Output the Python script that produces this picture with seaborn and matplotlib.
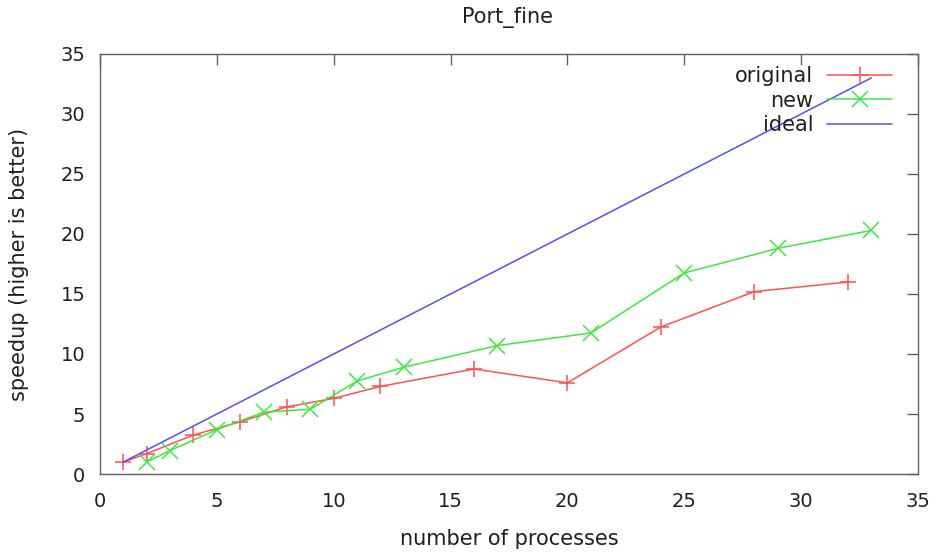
import matplotlib
matplotlib.use("Agg")
import matplotlib.pyplot as plt
import seaborn as sns
import pandas as pd

# speedup measurements
orig_procs = [1, 2, 4, 6, 8, 10, 12, 16, 20, 24, 28, 32]
orig_speedup = [1.0, 1.7, 3.25, 4.35, 5.6, 6.3, 7.3, 8.75, 7.6, 12.25, 15.2, 16.0]

new_procs = [2, 3, 5, 7, 9, 11, 13, 17, 21, 25, 29, 33]
new_speedup = [1.0, 1.95, 3.7, 5.15, 5.4, 7.75, 8.9, 10.7, 11.75, 16.75, 18.8, 20.3]

ideal_procs = [1, 33]
ideal_speedup = [1, 33]

sns.set_style("white")
plt.rcParams["font.family"] = ["DejaVu Sans"]

TXT = "#202020"
AX = "#606060"

fig = plt.figure(figsize=(9.38, 5.52), dpi=100)
ax = fig.add_axes([0.1066, 0.1413, 0.8721, 0.7609])

df_o = pd.DataFrame({"procs": orig_procs, "speedup": orig_speedup})
df_n = pd.DataFrame({"procs": new_procs, "speedup": new_speedup})
df_i = pd.DataFrame({"procs": ideal_procs, "speedup": ideal_speedup})

red, green, blue = "#ff5050", "#40e840", "#5050ff"

sns.lineplot(data=df_o, x="procs", y="speedup", ax=ax, color=red,
             marker="+", markersize=11, markeredgewidth=1.1,
             markeredgecolor=red, linewidth=1.1, label="original")
sns.lineplot(data=df_n, x="procs", y="speedup", ax=ax, color=green,
             marker="x", markersize=12, markeredgewidth=1.1,
             markeredgecolor=green, linewidth=1.1, label="new")
sns.lineplot(data=df_i, x="procs", y="speedup", ax=ax, color=blue,
             linewidth=1.1, label="ideal")

ax.set_xlim(0, 35)
ax.set_ylim(0, 35)
ax.set_xticks(range(0, 36, 5))
ax.set_yticks(range(0, 36, 5))

for s in ax.spines.values():
    s.set_color(AX)
    s.set_linewidth(1.0)
    s.set_visible(True)

ax.tick_params(direction="in", length=8, width=1, color=AX,
               top=True, right=True, labelsize=14, labelcolor=TXT)
ax.tick_params(axis="x", pad=13)
ax.tick_params(axis="y", pad=10.5)

ax.set_xlabel("number of processes", fontsize=15, labelpad=13, color=TXT)
ax.set_ylabel("speedup (higher is better)", fontsize=15, color=TXT)
ax.yaxis.set_label_coords(-0.0868, 0.5)
fig.text(0.5415, 1 - 23 / 552, "Port_fine", fontsize=15, color=TXT,
         ha="center", va="baseline")

leg = ax.legend(loc="upper right", bbox_to_anchor=(0.968, 0.971),
                frameon=False, markerfirst=False, fontsize=15,
                handlelength=3.1, borderaxespad=0, borderpad=0,
                labelspacing=0.22, handletextpad=0.67)
for t in leg.get_texts():
    t.set_ha("right")
    t.set_color(TXT)

fig.savefig("out.png", dpi=100)
